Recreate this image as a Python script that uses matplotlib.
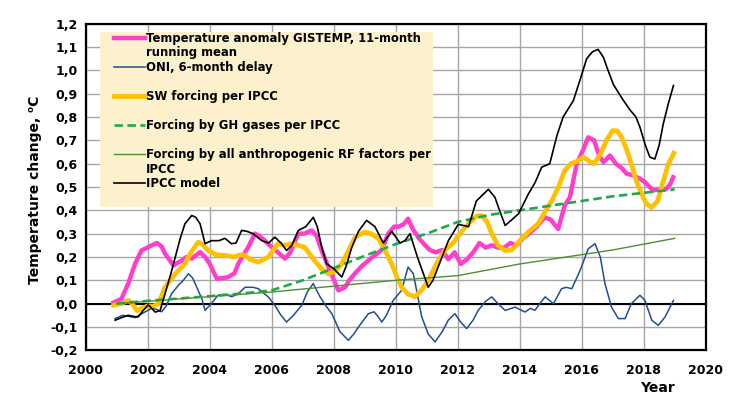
import matplotlib
matplotlib.use("Agg")
import matplotlib.pyplot as plt
from matplotlib.patches import Rectangle
from matplotlib.ticker import FuncFormatter, MultipleLocator

# ---------------- data ----------------
gis_x = [2000.9, 2001.15, 2001.37, 2001.59, 2001.8, 2002.13, 2002.3, 2002.45, 2002.56, 2002.83,
         2003.1, 2003.25, 2003.42, 2003.69, 2003.85, 2004.0, 2004.23, 2004.45, 2004.6, 2004.8,
         2004.92, 2005.24, 2005.46, 2005.6, 2005.78, 2006.0, 2006.2, 2006.43, 2006.6, 2006.86,
         2007.05, 2007.29, 2007.45, 2007.61, 2007.85, 2008.15, 2008.37, 2008.5, 2008.69, 2008.9,
         2009.12, 2009.35, 2009.55, 2009.76, 2009.95, 2010.09, 2010.25, 2010.4, 2010.55, 2010.75,
         2010.95, 2011.1, 2011.3, 2011.5, 2011.7, 2011.9, 2012.1, 2012.3, 2012.5, 2012.7,
         2012.9, 2013.1, 2013.3, 2013.5, 2013.7, 2013.9, 2014.1, 2014.3, 2014.55, 2014.8,
         2015.0, 2015.24, 2015.45, 2015.62, 2015.84, 2016.05, 2016.21, 2016.4, 2016.55, 2016.7,
         2016.91, 2017.1, 2017.3, 2017.45, 2017.65, 2017.88, 2018.05, 2018.3, 2018.5, 2018.7,
         2018.85, 2018.95]
gis_y = [0.005, 0.02, 0.085, 0.17, 0.228, 0.25, 0.26, 0.245, 0.214, 0.164,
         0.185, 0.2, 0.193, 0.221, 0.2, 0.171, 0.107, 0.11, 0.114, 0.13,
         0.171, 0.242, 0.30, 0.29, 0.27, 0.242, 0.22, 0.193, 0.22, 0.30,
         0.30, 0.314, 0.29, 0.228, 0.15, 0.057, 0.07, 0.10, 0.13, 0.16,
         0.185, 0.21, 0.23, 0.30, 0.33, 0.33, 0.34, 0.364, 0.32, 0.28,
         0.25, 0.23, 0.22, 0.23, 0.19, 0.22, 0.17, 0.19, 0.22, 0.26,
         0.24, 0.25, 0.24, 0.24, 0.26, 0.25, 0.28, 0.30, 0.33, 0.37,
         0.36, 0.32, 0.42, 0.456, 0.60, 0.66, 0.713, 0.70, 0.64, 0.606,
         0.635, 0.60, 0.58, 0.557, 0.55, 0.536, 0.52, 0.485, 0.49, 0.49,
         0.51, 0.542]

oni_x = [2000.95, 2001.2, 2001.4, 2001.6, 2001.85, 2002.13, 2002.3, 2002.45, 2002.6, 2002.77,
         2003.0, 2003.15, 2003.31, 2003.45, 2003.58, 2003.75, 2003.85, 2004.05, 2004.27, 2004.5,
         2004.7, 2004.9, 2005.14, 2005.4, 2005.57, 2005.89, 2006.1, 2006.3, 2006.48, 2006.7,
         2006.97, 2007.15, 2007.34, 2007.56, 2007.75, 2007.94, 2008.2, 2008.47, 2008.65, 2008.8,
         2009.12, 2009.3, 2009.44, 2009.55, 2009.7, 2009.92, 2010.19, 2010.4, 2010.57, 2010.84,
         2011.05, 2011.27, 2011.5, 2011.7, 2011.91, 2012.1, 2012.29, 2012.5, 2012.66, 2012.9,
         2013.1, 2013.3, 2013.53, 2013.85, 2014.17, 2014.35, 2014.49, 2014.65, 2014.82, 2015.09,
         2015.35, 2015.5, 2015.68, 2015.95, 2016.21, 2016.43, 2016.6, 2016.75, 2016.96, 2017.18,
         2017.4, 2017.6, 2017.88, 2018.04, 2018.26, 2018.47, 2018.69, 2018.96]
oni_y = [-0.064, -0.05, -0.055, -0.06, -0.04, -0.02, -0.025, -0.035, -0.01, 0.043,
         0.08, 0.10, 0.128, 0.11, 0.071, 0.02, -0.029, 0.0, 0.036, 0.04,
         0.03, 0.04, 0.07, 0.07, 0.064, 0.029, -0.007, -0.05, -0.079, -0.05,
         -0.007, 0.05, 0.086, 0.029, -0.01, -0.043, -0.12, -0.157, -0.13, -0.10,
         -0.043, -0.035, -0.057, -0.079, -0.05, 0.014, 0.057, 0.157, 0.128, -0.057,
         -0.13, -0.164, -0.12, -0.07, -0.043, -0.08, -0.107, -0.07, -0.029, 0.01,
         0.029, 0.0, -0.029, -0.015, -0.036, -0.02, -0.029, 0.0, 0.029, 0.0,
         0.064, 0.07, 0.064, 0.143, 0.235, 0.257, 0.20, 0.086, -0.014, -0.064,
         -0.064, 0.0, 0.036, 0.014, -0.071, -0.093, -0.057, 0.014]

sw_x = [2000.9, 2001.15, 2001.37, 2001.5, 2001.65, 2001.8, 2002.0, 2002.2, 2002.35, 2002.56,
        2002.89, 2003.2, 2003.4, 2003.63, 2003.8, 2003.95, 2004.2, 2004.49, 2004.8, 2005.0,
        2005.14, 2005.3, 2005.57, 2005.89, 2006.05, 2006.2, 2006.45, 2006.63, 2006.85, 2007.06,
        2007.38, 2007.6, 2007.83, 2008.05, 2008.26, 2008.45, 2008.69, 2009.0, 2009.2, 2009.44,
        2009.65, 2009.87, 2010.05, 2010.19, 2010.4, 2010.62, 2010.85, 2011.05, 2011.37, 2011.6,
        2011.85, 2012.13, 2012.4, 2012.6, 2012.77, 2012.95, 2013.1, 2013.3, 2013.53, 2013.75,
        2014.0, 2014.3, 2014.6, 2014.8, 2015.03, 2015.25, 2015.45, 2015.65, 2015.85, 2016.05,
        2016.25, 2016.4, 2016.6, 2016.8, 2017.0, 2017.15, 2017.3, 2017.45, 2017.6, 2017.75,
        2017.9, 2018.08, 2018.25, 2018.45, 2018.62, 2018.8, 2018.97]
sw_y = [-0.007, 0.0, 0.014, 0.0, -0.03, -0.02, -0.01, -0.01, 0.0, 0.071,
        0.128, 0.171, 0.22, 0.264, 0.25, 0.228, 0.21, 0.207, 0.20, 0.21,
        0.207, 0.19, 0.178, 0.20, 0.23, 0.257, 0.25, 0.257, 0.25, 0.242,
        0.185, 0.15, 0.128, 0.14, 0.171, 0.22, 0.285, 0.307, 0.30, 0.28,
        0.23, 0.171, 0.11, 0.071, 0.04, 0.03, 0.06, 0.10, 0.185, 0.23,
        0.26, 0.31, 0.35, 0.375, 0.378, 0.35, 0.30, 0.25, 0.228, 0.23,
        0.27, 0.31, 0.343, 0.39, 0.44, 0.50, 0.57, 0.60, 0.61, 0.628,
        0.61, 0.60, 0.64, 0.70, 0.742, 0.74, 0.71, 0.66, 0.60, 0.53,
        0.48, 0.43, 0.412, 0.44, 0.52, 0.60, 0.645]

gh_x = [2001, 2002, 2003, 2004, 2005, 2006, 2007, 2008, 2009, 2010,
        2011, 2012, 2013, 2014, 2015, 2016, 2017, 2018, 2019]
gh_y = [0.0, 0.012, 0.022, 0.032, 0.043, 0.057, 0.10, 0.152, 0.205, 0.255,
        0.30, 0.35, 0.38, 0.40, 0.42, 0.44, 0.46, 0.475, 0.49]

rf_x = [2001, 2003, 2005, 2006, 2008, 2010, 2011, 2012, 2013, 2014,
        2015, 2016, 2017, 2018, 2019]
rf_y = [0.0, 0.02, 0.04, 0.05, 0.075, 0.10, 0.11, 0.12, 0.145, 0.17,
        0.19, 0.21, 0.23, 0.255, 0.28]

ipcc_x = [2000.95, 2001.15, 2001.37, 2001.55, 2001.69, 2001.85, 2002.02, 2002.24, 2002.4, 2002.56,
          2002.75, 2002.89, 2003.05, 2003.2, 2003.42, 2003.55, 2003.69, 2003.85, 2004.06, 2004.3,
          2004.49, 2004.7, 2004.85, 2005.03, 2005.2, 2005.4, 2005.68, 2005.9, 2006.1, 2006.3,
          2006.48, 2006.65, 2006.86, 2007.1, 2007.34, 2007.47, 2007.6, 2007.77, 2008.0, 2008.26,
          2008.4, 2008.58, 2008.8, 2009.06, 2009.33, 2009.6, 2009.87, 2010.14, 2010.3, 2010.46,
          2010.7, 2011.05, 2011.2, 2011.37, 2011.7, 2012.02, 2012.35, 2012.6, 2012.99, 2013.2,
          2013.35, 2013.53, 2013.75, 2013.96, 2014.28, 2014.5, 2014.71, 2014.97, 2015.2, 2015.4,
          2015.73, 2015.95, 2016.16, 2016.35, 2016.53, 2016.7, 2016.85, 2017.02, 2017.3, 2017.56,
          2017.75, 2017.88, 2018.05, 2018.2, 2018.36, 2018.5, 2018.63, 2018.8, 2018.96]
ipcc_y = [-0.071, -0.06, -0.05, -0.055, -0.057, -0.03, -0.005, -0.036, -0.03, 0.043,
          0.13, 0.20, 0.28, 0.342, 0.378, 0.37, 0.342, 0.257, 0.27, 0.27,
          0.28, 0.257, 0.26, 0.314, 0.31, 0.30, 0.27, 0.26, 0.285, 0.26,
          0.228, 0.25, 0.314, 0.33, 0.37, 0.33, 0.25, 0.171, 0.15, 0.114,
          0.16, 0.24, 0.31, 0.357, 0.33, 0.26, 0.31, 0.26, 0.27, 0.30,
          0.20, 0.07, 0.10, 0.157, 0.27, 0.34, 0.33, 0.44, 0.49, 0.456,
          0.40, 0.335, 0.36, 0.385, 0.47, 0.52, 0.585, 0.60, 0.72, 0.80,
          0.87, 0.96, 1.05, 1.08, 1.09, 1.056, 1.00, 0.94, 0.88, 0.83,
          0.80, 0.756, 0.68, 0.628, 0.62, 0.68, 0.77, 0.86, 0.935]

labels = ["Temperature anomaly GISTEMP, 11-month",
          "ONI, 6-month delay",
          "SW forcing per IPCC",
          "Forcing by GH gases per IPCC",
          "Forcing by all anthropogenic RF factors per",
          "IPCC model"]
label_cont = ["running mean", "IPCC"]
xticks = list(range(2000, 2021, 2))

# ---------------- figure ----------------
W, H = 740, 416
fig = plt.figure(figsize=(W / 100, H / 100), dpi=100, facecolor="white")
L, R, T, B = 85.7, 705.7, 23.7, 350.3
ax = fig.add_axes([L / W, 1 - B / H, (R - L) / W, (B - T) / H])

FS = 9
LFS = 8.4
ax.set_xlim(2000, 2020)
ax.set_ylim(-0.2, 1.2)
ax.set_xticks(xticks)
ax.yaxis.set_major_locator(MultipleLocator(0.1))
ax.yaxis.set_major_formatter(FuncFormatter(lambda v, p: f"{v:.1f}".replace(".", ",").replace("-0,0", "0,0")))
ax.tick_params(length=0, labelsize=FS)
ax.tick_params(axis="x", pad=10)
ax.tick_params(axis="y", pad=6)
for lab in ax.get_xticklabels() + ax.get_yticklabels():
    lab.set_fontweight("bold")
ax.grid(True, color="#A6A6A6", lw=1.0)
ax.set_axisbelow(True)
for s in ax.spines.values():
    s.set_color("black")
    s.set_linewidth(1.6)

ax.axhline(0, color="black", lw=1.5, zorder=2)

# legend background
ax.add_patch(Rectangle((0.023, 0.4388), 0.537, 0.5367, transform=ax.transAxes,
                       facecolor="#FDF0CC", edgecolor="none", zorder=1))

c_pink, c_blue, c_orange, c_gh, c_rf = "#FF3FCC", "#1F4E96", "#FFC000", "#1EAA4A", "#4E8F2F"
l1, = ax.plot(gis_x, gis_y, color=c_pink, lw=3.2, zorder=3, solid_joinstyle="round")
l2, = ax.plot(oni_x, oni_y, color=c_blue, lw=1.1, zorder=3)
l3, = ax.plot(sw_x, sw_y, color=c_orange, lw=3.4, zorder=4, solid_joinstyle="round")
l4, = ax.plot(gh_x, gh_y, color=c_gh, lw=1.9, dashes=(3.2, 1.7), zorder=4)
l5, = ax.plot(rf_x, rf_y, color=c_rf, lw=1.0, zorder=4)
l6, = ax.plot(ipcc_x, ipcc_y, color="black", lw=1.2, zorder=5)

leg = fig.legend([l1, l2, l3, l4, l5, l6], labels, loc="center left",
                 bbox_to_anchor=(108 / W, 1 - 111.0 / H), frameon=False,
                 borderpad=0, handlelength=2.7, handletextpad=0.1,
                 labelspacing=1.36, prop={"weight": "bold", "size": LFS})
fig.text(146 / W, 1 - 52.5 / H, label_cont[0], fontsize=LFS, fontweight="bold", va="center")
fig.text(146 / W, 1 - 169.5 / H, label_cont[1], fontsize=LFS, fontweight="bold", va="center")

fig.text(657 / W, 1 - 388 / H, "Year", fontsize=10, fontweight="bold", ha="center", va="center")
fig.text(35 / W, 1 - 190 / H, "Temperature change, \u2070C", fontsize=10, fontweight="bold",
         rotation=90, ha="center", va="center")

fig.savefig("out.png", dpi=100, facecolor="white")
